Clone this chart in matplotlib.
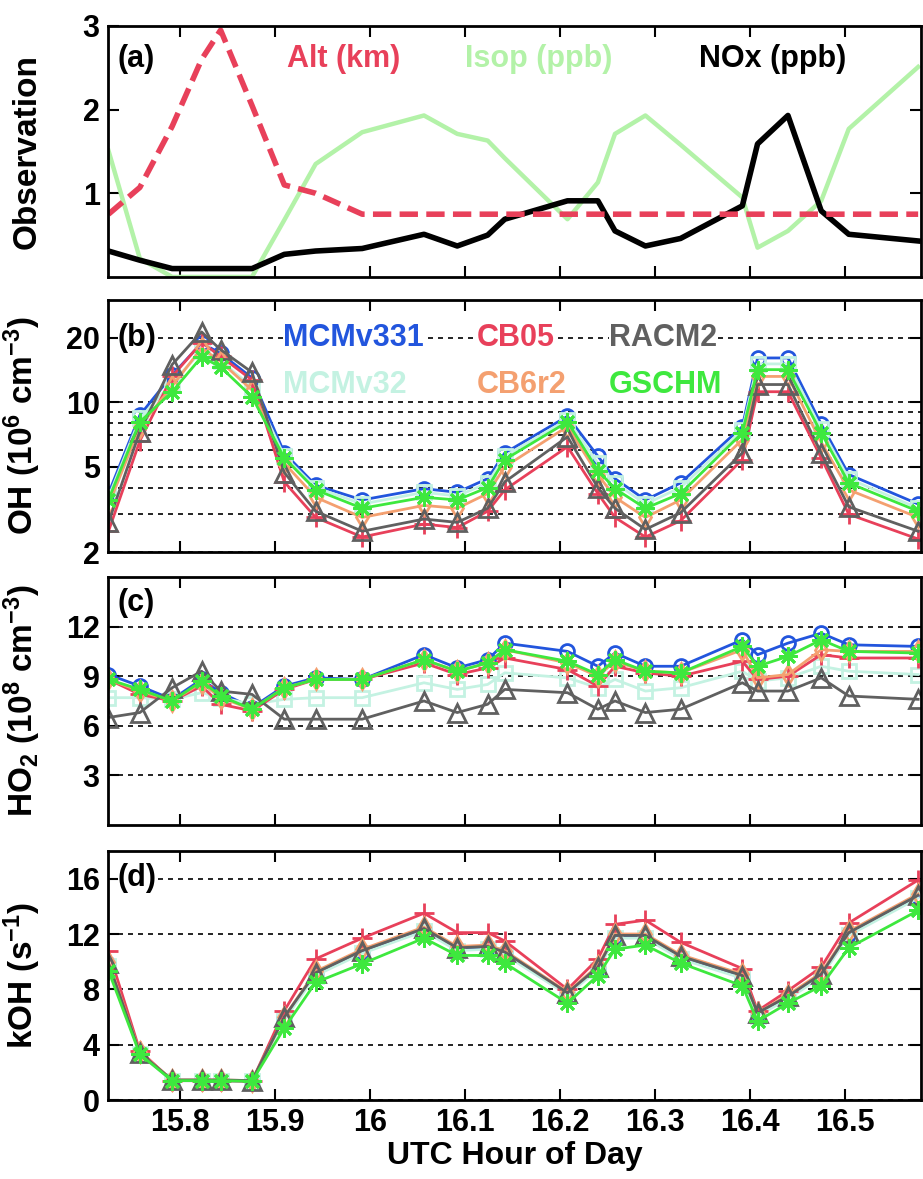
import matplotlib
matplotlib.use("Agg")
import matplotlib.pyplot as plt
import numpy as np

plt.rcParams['font.family'] = ['Liberation Sans', 'DejaVu Sans']
plt.rcParams['font.weight'] = 'bold'
plt.rcParams['mathtext.fontset'] = 'custom'
plt.rcParams['mathtext.rm'] = 'Liberation Sans:bold'
plt.rcParams['mathtext.it'] = 'Liberation Sans:bold'
plt.rcParams['mathtext.bf'] = 'Liberation Sans:bold'
plt.rcParams['mathtext.default'] = 'regular'

# UTC hour of each model/observation point
hour = [15.725, 15.758, 15.792, 15.823, 15.843, 15.876, 15.910, 15.943, 15.992,
        16.057, 16.092, 16.124, 16.142, 16.208, 16.240, 16.258, 16.290, 16.327,
        16.392, 16.408, 16.440, 16.475, 16.504, 16.577]

# (a) observations
alt_km = [0.75, 1.07, 1.8, 2.6, 2.95, 2.05, 1.1, 1.0, 0.75, 0.75, 0.75, 0.75,
          0.75, 0.75, 0.75, 0.75, 0.75, 0.75, 0.75, 0.75, 0.75, 0.75, 0.75, 0.75]
isop_ppb = [1.51, 0.22, 0.0, 0.0, 0.0, 0.0, 0.68, 1.35, 1.73, 1.93, 1.71, 1.63,
            1.42, 0.69, 1.13, 1.71, 1.93, 1.58, 0.95, 0.35, 0.55, 0.91, 1.77, 2.51]
nox_ppb = [0.31, 0.2, 0.1, 0.1, 0.1, 0.1, 0.27, 0.31, 0.34, 0.51, 0.37, 0.5,
           0.69, 0.91, 0.91, 0.55, 0.37, 0.46, 0.85, 1.59, 1.93, 0.79, 0.51, 0.43]

# (b) OH, 1e6 cm-3
oh = {
    'MCMv331': [3.75, 8.7, 13.4, 18.9, 16.9, 13.0, 5.8, 4.1, 3.5, 3.95, 3.8, 4.4,
                5.8, 8.6, 5.6, 4.4, 3.5, 4.2, 7.7, 16.1, 16.1, 7.9, 4.6, 3.35],
    'MCMv32': [3.6, 8.4, 12.3, 17.4, 15.6, 11.8, 5.6, 4.0, 3.35, 3.8, 3.65, 4.2,
               5.6, 8.3, 5.2, 4.2, 3.35, 4.0, 7.4, 15.1, 15.1, 7.5, 4.4, 3.2],
    'CB05': [2.5, 6.6, 13.2, 19.0, 16.4, 12.7, 4.25, 2.9, 2.35, 2.7, 2.6, 3.1,
             3.9, 6.2, 3.75, 2.9, 2.35, 2.8, 5.4, 11.2, 11.2, 5.5, 3.0, 2.3],
    'CB6r2': [3.3, 7.7, 11.9, 17.9, 15.5, 11.4, 5.2, 3.6, 2.9, 3.3, 3.2, 3.75,
              5.0, 7.7, 4.6, 3.6, 2.9, 3.5, 6.7, 13.2, 13.2, 6.5, 3.9, 2.9],
    'RACM2': [2.75, 7.3, 15.0, 21.3, 17.6, 13.8, 4.7, 3.1, 2.5, 2.85, 2.75, 3.2,
              4.25, 6.9, 4.0, 3.2, 2.55, 3.05, 5.8, 12.1, 12.1, 5.8, 3.25, 2.5],
    'GSCHM': [3.5, 8.1, 11.2, 16.3, 14.6, 10.6, 5.5, 3.9, 3.2, 3.6, 3.5, 4.0,
              5.4, 8.1, 4.8, 3.95, 3.2, 3.75, 7.2, 14.2, 14.2, 7.2, 4.2, 3.1],
}

# (c) HO2, 1e8 cm-3
ho2 = {
    'MCMv331': [9.1, 8.4, 7.6, 8.8, 8.0, 7.1, 8.4, 8.9, 8.8, 10.3, 9.5, 10.0,
                11.0, 10.5, 9.6, 10.4, 9.6, 9.6, 11.2, 10.3, 11.0, 11.6, 10.9, 10.8],
    'MCMv32': [7.7, 7.7, 7.6, 8.0, 7.7, 7.3, 7.6, 7.7, 7.7, 8.6, 8.2, 8.5,
               9.2, 8.9, 8.3, 8.8, 8.1, 8.3, 9.3, 8.7, 8.9, 9.6, 9.3, 9.1],
    'CB05': [8.8, 7.9, 7.5, 8.4, 7.3, 6.9, 8.2, 8.8, 8.8, 9.8, 9.1, 9.5,
             10.1, 9.4, 8.4, 9.6, 9.2, 9.0, 9.9, 8.8, 9.0, 10.3, 10.1, 10.1],
    'CB6r2': [8.8, 8.1, 7.5, 8.6, 7.7, 7.0, 8.3, 8.8, 8.8, 10.0, 9.3, 9.8,
              10.6, 9.8, 9.0, 9.9, 9.3, 9.2, 10.6, 8.9, 9.1, 10.6, 10.5, 10.5],
    'RACM2': [6.5, 6.8, 8.3, 9.3, 8.1, 7.9, 6.4, 6.4, 6.4, 7.5, 6.8, 7.3,
              8.2, 8.0, 7.0, 7.5, 6.8, 7.0, 8.6, 8.1, 8.1, 8.9, 7.8, 7.6],
    'GSCHM': [8.8, 8.2, 7.5, 8.7, 7.8, 7.0, 8.3, 8.8, 8.8, 10.0, 9.3, 9.8,
              10.6, 9.9, 9.1, 10.0, 9.3, 9.2, 10.8, 9.6, 10.2, 11.2, 10.5, 10.4],
}

# (d) OH reactivity, s-1
koh = {
    'MCMv331': [9.8, 3.4, 1.4, 1.4, 1.4, 1.35, 5.9, 9.1, 10.7, 12.3, 10.9, 11.0,
                10.6, 7.7, 9.5, 11.8, 11.8, 10.3, 8.9, 6.2, 7.4, 9.0, 12.0, 14.7],
    'MCMv32': [9.7, 3.35, 1.4, 1.4, 1.4, 1.35, 5.8, 9.0, 10.6, 12.2, 10.8, 10.9,
               10.5, 7.6, 9.4, 11.7, 11.7, 10.2, 8.8, 6.1, 7.3, 8.9, 11.9, 14.6],
    'CB05': [10.8, 3.55, 1.4, 1.4, 1.4, 1.35, 6.45, 10.2, 11.7, 13.5, 12.1, 12.1,
             11.5, 8.0, 10.2, 12.7, 13.0, 11.4, 9.5, 6.45, 7.9, 9.6, 12.8, 15.9],
    'CB6r2': [10.0, 3.45, 1.45, 1.45, 1.45, 1.4, 6.0, 9.3, 10.9, 12.5, 11.1, 11.2,
              10.8, 7.8, 9.7, 12.0, 12.0, 10.5, 9.1, 6.3, 7.6, 9.2, 12.2, 14.9],
    'RACM2': [9.9, 3.4, 1.45, 1.45, 1.45, 1.4, 6.0, 9.2, 10.8, 12.4, 11.0, 11.1,
              10.7, 7.75, 9.6, 11.9, 11.9, 10.4, 9.0, 6.3, 7.5, 9.1, 12.1, 14.8],
    'GSCHM': [9.35, 3.3, 1.4, 1.4, 1.4, 1.35, 5.2, 8.5, 9.85, 11.7, 10.45, 10.45,
              9.9, 7.0, 9.0, 10.9, 11.2, 9.9, 8.25, 5.7, 7.0, 8.25, 11.0, 13.7],
}

mech_style = {
    'MCMv331': dict(color='#2255dd', marker='o', ms=10),
    'MCMv32': dict(color='#c4f2e2', marker='s', ms=10),
    'CB05': dict(color='#e8405a', marker='+', ms=14),
    'CB6r2': dict(color='#f4a070', marker='d', ms=10),
    'RACM2': dict(color='#606060', marker='^', ms=13),
    'GSCHM': dict(color='#3ee83e', marker=(8, 2, 0), ms=13),
}

fig = plt.figure(figsize=(9.23, 11.79), dpi=100)
left, width = 108 / 923, 813 / 923
ax_a = fig.add_axes([left, 0.7651, width, 0.2129])
ax_b = fig.add_axes([left, 0.5318, width, 0.2137])
ax_c = fig.add_axes([left, 0.3003, width, 0.2103])
ax_d = fig.add_axes([left, 0.0670, width, 0.2112])

xticks = [15.8, 15.9, 16.0, 16.1, 16.2, 16.3, 16.4, 16.5]
for ax in (ax_a, ax_b, ax_c, ax_d):
    ax.set_xlim(15.7245, 16.58)
    ax.set_xticks(xticks)
    ax.tick_params(direction='in', length=8, width=1.5, top=True, right=True,
                   labelsize=22, pad=6)
    ax.tick_params(which='minor', length=0)
    for s in ax.spines.values():
        s.set_linewidth(2)
    if ax is not ax_d:
        ax.tick_params(labelbottom=False)

grid_kw = dict(color='black', linestyle=(0, (3, 3)), linewidth=1.2)
lab_box = dict(facecolor='white', edgecolor='none', pad=0)
txt_kw = dict(fontsize=22, fontweight='bold', va='center')

# (a)
ax_a.plot(hour, isop_ppb, color='#b3f2a8', lw=3.2)
ax_a.plot(hour, nox_ppb, color='black', lw=4)
ax_a.plot(hour, alt_km, color='#e8405a', lw=4, dashes=(3.3, 1.5))
ax_a.set_ylim(0, 3)
ax_a.set_yticks([1, 2, 3])
ax_a.text(0.012, 0.87, '(a)', transform=ax_a.transAxes, **txt_kw)
ax_a.text(0.29, 0.87, 'Alt (km)', transform=ax_a.transAxes, ha='center',
          color='#e8405a', **txt_kw)
ax_a.text(0.53, 0.87, 'Isop (ppb)', transform=ax_a.transAxes, ha='center',
          color='#b3f2a8', **txt_kw)
ax_a.text(0.818, 0.87, 'NOx (ppb)', transform=ax_a.transAxes, ha='center',
          color='black', **txt_kw)
ax_a.set_ylabel('Observation', fontsize=24, fontweight='bold')


def draw_models(ax, data):
    for name in ['MCMv331', 'MCMv32', 'CB05', 'CB6r2', 'RACM2', 'GSCHM']:
        st = mech_style[name]
        ax.plot(hour, data[name], color=st['color'], lw=2, marker=st['marker'],
                ms=st['ms'], mfc='none', mec=st['color'], mew=2)


# (b)
ax_b.set_yscale('log')
ax_b.set_ylim(2, 30)
ax_b.set_yticks([2, 5, 10, 20])
ax_b.set_yticklabels(['2', '5', '10', '20'])
ax_b.set_yticks([3, 4, 6, 7, 8, 9], minor=True)
ax_b.grid(which='both', axis='y', **grid_kw)
ax_b.set_axisbelow(True)
draw_models(ax_b, oh)
ax_b.text(0.012, 0.85, '(b)', transform=ax_b.transAxes, bbox=lab_box, **txt_kw)
legend_pos = {'MCMv331': (0.215, 0.85), 'CB05': (0.453, 0.85), 'RACM2': (0.616, 0.85),
              'MCMv32': (0.215, 0.663), 'CB6r2': (0.453, 0.663), 'GSCHM': (0.616, 0.663)}
for name, (tx, ty) in legend_pos.items():
    ax_b.text(tx, ty, name, transform=ax_b.transAxes, color=mech_style[name]['color'],
              bbox=lab_box, zorder=5, **txt_kw)
ax_b.set_ylabel('OH (10$^6$ cm$^{-3}$)', fontsize=24, fontweight='bold')

# (c)
ax_c.set_ylim(0, 15)
ax_c.set_yticks([3, 6, 9, 12])
ax_c.grid(axis='y', **grid_kw)
ax_c.set_axisbelow(True)
draw_models(ax_c, ho2)
ax_c.text(0.012, 0.895, '(c)', transform=ax_c.transAxes, bbox=lab_box, **txt_kw)
ax_c.set_ylabel('HO$_2$ (10$^8$ cm$^{-3}$)', fontsize=24, fontweight='bold')

# (d)
ax_d.set_ylim(0, 18)
ax_d.set_yticks([0, 4, 8, 12, 16])
ax_d.grid(axis='y', **grid_kw)
ax_d.set_axisbelow(True)
draw_models(ax_d, koh)
ax_d.text(0.012, 0.89, '(d)', transform=ax_d.transAxes, bbox=lab_box, **txt_kw)
ax_d.set_ylabel('kOH (s$^{-1}$)', fontsize=24, fontweight='bold')
ax_d.set_xticklabels(['15.8', '15.9', '16', '16.1', '16.2', '16.3', '16.4', '16.5'])
ax_d.set_xlabel('UTC Hour of Day', fontsize=23, fontweight='bold', labelpad=2)

for ax in (ax_a, ax_b, ax_c, ax_d):
    ax.yaxis.set_label_coords(-0.08, 0.5)

fig.savefig('out.png', dpi=100)
